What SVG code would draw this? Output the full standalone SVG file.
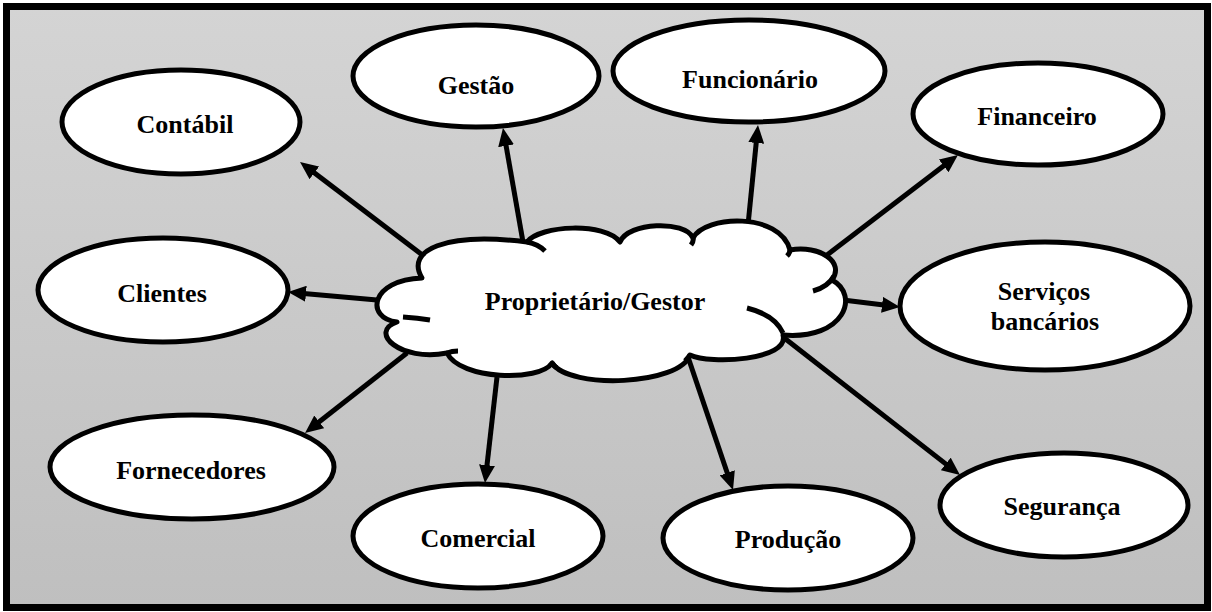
<svg xmlns="http://www.w3.org/2000/svg" width="1212" height="612" viewBox="0 0 1212 612">
<defs>
<linearGradient id="bg" x1="0" y1="0" x2="0" y2="1">
<stop offset="0" stop-color="#d4d4d4"/>
<stop offset="1" stop-color="#bfbfbf"/>
</linearGradient>
<marker id="ah" markerUnits="userSpaceOnUse" markerWidth="18" markerHeight="16" refX="8" refY="8" orient="auto" viewBox="0 0 18 16">
<path d="M0,0 L18,8 L0,16 Z" fill="#000"/>
</marker>
<style>
.node ellipse{fill:#fff;stroke:#000;stroke-width:5}
.cloud{fill:#fff;stroke:#000;stroke-width:5;stroke-linejoin:round}
.inner{fill:none;stroke:#000;stroke-width:5}
.lbl{font-family:"Liberation Serif","Times New Roman",serif;font-weight:bold;font-size:26px;fill:#000;text-anchor:middle}
.conn line{stroke:#000;stroke-width:5;marker-end:url(#ah)}
</style>
</defs>
<rect x="6.5" y="6.5" width="1201" height="601" fill="url(#bg)" stroke="#000" stroke-width="7"/>

<g id="contabil" class="node"><ellipse cx="181" cy="122" rx="119" ry="52"/><text class="lbl" x="185" y="133">Contábil</text></g>
<g id="gestao" class="node"><ellipse cx="476" cy="76" rx="123" ry="51"/><text class="lbl" x="476" y="94">Gestão</text></g>
<g id="funcionario" class="node"><ellipse cx="749" cy="71" rx="136" ry="51"/><text class="lbl" x="750" y="88">Funcionário</text></g>
<g id="financeiro" class="node"><ellipse cx="1038" cy="114" rx="125" ry="51"/><text class="lbl" x="1037" y="125">Financeiro</text></g>
<g id="clientes" class="node"><ellipse cx="163" cy="290" rx="125" ry="52"/><text class="lbl" x="162" y="302">Clientes</text></g>
<g id="servicos" class="node"><ellipse cx="1045" cy="306" rx="145" ry="64"/><text class="lbl" x="1044" y="300">Serviços</text><text class="lbl" x="1045" y="330">bancários</text></g>
<g id="fornecedores" class="node"><ellipse cx="192" cy="467" rx="142" ry="52"/><text class="lbl" x="191" y="479">Fornecedores</text></g>
<g id="comercial" class="node"><ellipse cx="478" cy="536" rx="125" ry="52"/><text class="lbl" x="478" y="547">Comercial</text></g>
<g id="producao" class="node"><ellipse cx="788" cy="538" rx="125" ry="52"/><text class="lbl" x="788" y="548">Produção</text></g>
<g id="seguranca" class="node"><ellipse cx="1064" cy="505" rx="124" ry="52"/><text class="lbl" x="1062" y="515">Segurança</text></g>

<g id="connectors" class="conn">
<line x1="425" y1="257" x2="308" y2="168"/>
<line x1="523" y1="242" x2="504.7" y2="137.9"/>
<line x1="748" y1="225" x2="757" y2="135"/>
<line x1="827" y1="255" x2="950" y2="161"/>
<line x1="377" y1="300" x2="298" y2="293"/>
<line x1="843" y1="300" x2="890" y2="305.8"/>
<line x1="407" y1="353" x2="312.9" y2="426.8"/>
<line x1="497" y1="377" x2="486.1" y2="473.1"/>
<line x1="688" y1="357" x2="729.8" y2="480.5"/>
<line x1="783" y1="337" x2="952.1" y2="468.9"/>
</g>

<g id="proprietario">
<path class="cloud" d="M422,278 C405,250 445,232 527,242 C540,225 605,222 620,242 C628,222 685,220 693,238 C705,215 780,212 790,250 C820,245 845,262 832,280 C860,295 845,340 783,335 C790,360 710,365 690,355 C680,385 570,390 552,363 C540,382 460,380 447,353 C400,362 368,332 397,322 C365,318 370,280 422,278 Z"/>
<path class="inner" d="M527,242 Q538,244 545,251 M813,291 Q828,287 834,276 M747,308 Q775,315 783,333 M403,317 Q418,318 430,320 M693,238 Q694,241 691,245 M790,250 Q790,253 787,256 M690,355 Q688,358 685,361 M552,363 Q554,366 557,368 M447,353 Q452,351 458,351"/>
<text class="lbl" x="595" y="310">Proprietário/Gestor</text>
</g>
</svg>
